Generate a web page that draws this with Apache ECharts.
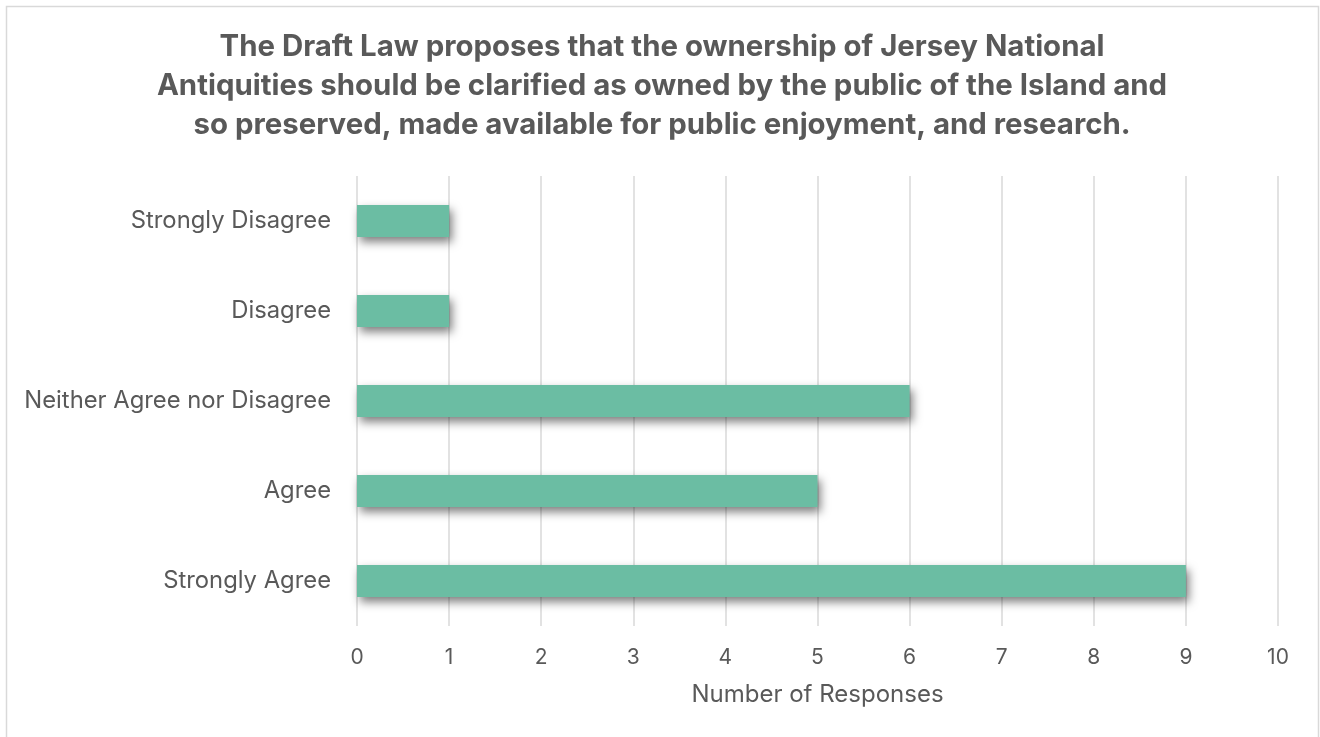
<!DOCTYPE html>
<html>
<head>
<meta charset="utf-8">
<script src="https://cdn.jsdelivr.net/npm/echarts@6/dist/echarts.min.js"></script>
<style>
  html, body { margin: 0; padding: 0; background: #ffffff; }
  #chart { width: 1320px; height: 737px; }
</style>
</head>
<body>
<div id="chart"></div>
<script>
// Survey responses per answer, listed bottom-to-top as drawn on the category axis
const categories = ['Strongly Agree', 'Agree', 'Neither Agree nor Disagree', 'Disagree', 'Strongly Disagree'];
const responses = [9, 5, 6, 1, 1];
const titleLines = [
  'The Draft Law proposes that the ownership of Jersey National',
  'Antiquities should be clarified as owned by the public of the Island and',
  'so preserved, made available for public enjoyment, and research.'
];
const axisName = 'Number of Responses';

const FONT = 'Inter, "Open Sans", sans-serif';
const TEXT = '#595959';

const chart = echarts.init(document.getElementById('chart'));
chart.setOption({
  backgroundColor: '#ffffff',
  animation: false,
  graphic: [{
    type: 'rect',
    shape: { x: 6.5, y: 6.5, width: 1312, height: 740 },
    style: { fill: 'none', stroke: '#d9d9d9', lineWidth: 1.5 },
    silent: true
  }, {
    // three-line heading, centred over the plot
    type: 'text',
    x: 662,
    y: 86,
    style: {
      text: titleLines.join('\n'),
      align: 'center',
      verticalAlign: 'middle',
      fontFamily: FONT,
      fontSize: 29.4,
      fontWeight: 'bold',
      fill: TEXT,
      lineHeight: 39
    },
    silent: true
  }],
  grid: { left: 357, right: 42, top: 176, height: 450, containLabel: false },
  xAxis: {
    type: 'value',
    min: 0,
    max: 10,
    interval: 1,
    name: axisName,
    nameLocation: 'middle',
    nameGap: 57,
    nameTextStyle: { fontFamily: FONT, fontSize: 24, color: TEXT },
    axisLine: { show: false },
    axisTick: { show: false },
    axisLabel: { fontFamily: FONT, fontSize: 21, color: TEXT, margin: 21 },
    splitLine: { show: true, lineStyle: { color: '#d9d9d9', width: 1.5 } }
  },
  yAxis: {
    type: 'category',
    data: categories,
    axisLine: { show: false },
    axisTick: { show: false },
    axisLabel: { fontFamily: FONT, fontSize: 23.8, color: TEXT, margin: 26 },
    splitLine: { show: false }
  },
  series: [{
    type: 'bar',
    data: responses,
    barWidth: 32,
    itemStyle: {
      color: '#6bbda3',
      shadowColor: 'rgba(0,0,0,0.5)',
      shadowBlur: 10,
      shadowOffsetX: 3,
      shadowOffsetY: 5
    }
  }]
});
</script>
</body>
</html>
